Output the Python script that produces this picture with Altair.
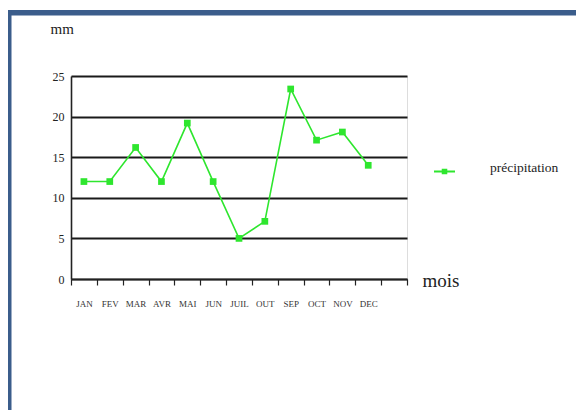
import altair as alt
import pandas as pd

months = ["JAN", "FEV", "MAR", "AVR", "MAI", "JUN", "JUIL", "OUT", "SEP", "OCT", "NOV", "DEC"]
precip = [12, 12, 16.2, 12, 19.2, 12, 5, 7.1, 23.4, 17.1, 18.1, 14]
series_name = "précipitation"
y_ticks = [0, 5, 10, 15, 20, 25]
x_domain = months + ["_"]

df = pd.DataFrame({"mois": months, "mm": precip, "serie": [series_name] * len(months)})

GREEN = "#2ee62e"
FRAME = "#3b5d8b"
FONT = "Liberation Serif"

legend_path = "M-1,0L1,0M-0.17,-0.17L0.17,-0.17L0.17,0.17L-0.17,0.17Z"

line = alt.Chart(df).mark_line(
    strokeWidth=1.6,
    point=alt.OverlayMarkDef(shape="square", size=45, filled=True, opacity=1),
).encode(
    x=alt.X(
        "mois:N",
        sort=x_domain,
        scale=alt.Scale(domain=x_domain, paddingInner=0, paddingOuter=0),
        axis=alt.Axis(
            title="mois",
            titleFont=FONT,
            titleFontSize=19,
            titleFontWeight="normal",
            titleColor="#222",
            titleAngle=0,
            titleAlign="left",
            titleBaseline="alphabetic",
            titleX=351,
            titleY=7,
            labelAngle=0,
            labelFont=FONT,
            labelFontSize=9,
            labelColor="#333",
            labelPadding=14,
            labelExpr="datum.label == '_' ? '' : datum.label",
            tickBand="extent",
            tickSize=6,
            tickColor="#222",
            tickWidth=1.2,
            domainColor="#222",
            domainWidth=1.6,
            grid=False,
        ),
    ),
    y=alt.Y(
        "mm:Q",
        scale=alt.Scale(domain=[0, 25], nice=False),
        axis=alt.Axis(
            values=y_ticks,
            title="mm",
            titleFont=FONT,
            titleFontSize=15,
            titleFontWeight="normal",
            titleColor="#222",
            titleAngle=0,
            titleAlign="left",
            titleBaseline="alphabetic",
            titleX=-21,
            titleY=-43,
            labelFont=FONT,
            labelFontSize=12,
            labelColor="#222",
            labelPadding=7,
            ticks=False,
            domainColor="#222",
            domainWidth=1.6,
            grid=True,
            gridColor="#1a1a1a",
            gridWidth=1.8,
        ),
    ),
    color=alt.Color(
        "serie:N",
        scale=alt.Scale(domain=[series_name], range=[GREEN]),
        legend=alt.Legend(
            title=None,
            orient="none",
            legendX=362,
            legendY=84,
            symbolType=legend_path,
            symbolSize=441,
            symbolStrokeWidth=2,
            symbolFillColor=GREEN,
            symbolStrokeColor=GREEN,
            labelFont=FONT,
            labelFontSize=13.5,
            labelColor="#222",
            labelBaseline="alphabetic",
            labelOffset=34,
        ),
    ),
)

frame_data = alt.Data(values=[{"k": 1}])
frame_top = alt.Chart(frame_data).mark_rect(color=FRAME).encode(
    x=alt.value(-64), x2=alt.value(520), y=alt.value(-66), y2=alt.value(-60.5)
)
frame_left = alt.Chart(frame_data).mark_rect(color=FRAME).encode(
    x=alt.value(-64), x2=alt.value(-59.5), y=alt.value(-66), y2=alt.value(340)
)

chart = alt.layer(frame_top, frame_left, line).properties(
    width=336,
    height=203,
    autosize=alt.AutoSizeParams(type="none"),
    padding={"left": 63, "top": 68, "right": 169, "bottom": 131},
).configure_view(stroke=None).configure(background="white")

chart.save("out.html", embed_options={"renderer": "svg", "actions": False})
